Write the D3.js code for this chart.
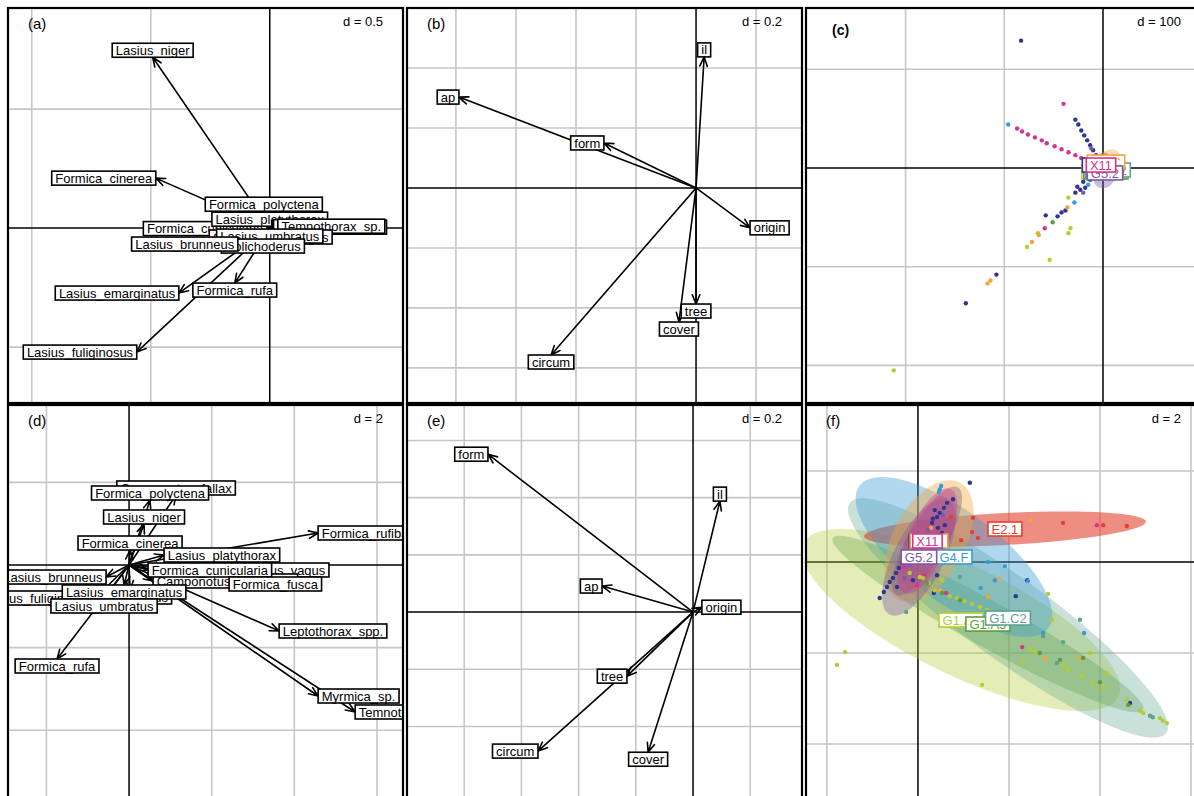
<!DOCTYPE html>
<html><head><meta charset="utf-8">
<script src="https://cdn.jsdelivr.net/npm/d3@7"></script>
<style>
html,body{margin:0;padding:0;background:#fff;}
svg text{font-family:"Liberation Sans",Arial,sans-serif;}
</style></head>
<body><svg id="chart" width="1194" height="796"></svg>
<script>
// ---------------- DATA ----------------
const panelNames = ["(a)","(b)","(c)","(d)","(e)","(f)"];
const panelScaleLabels = ["d = 0.5","d = 0.2","d = 100","d = 2","d = 0.2","d = 2"];
const panelXLim = [[-1.10,0.56],[-0.963,0.353],[-300.9,99.3],[-2.93,6.63],[-1.0,0.381],[-2.46,6.22]];
const panelYLim = [[-0.735,0.925],[-0.717,0.6],[-238.1,162.1],[-5.69,3.874],[-0.657,0.724],[-5.23,3.45]];
const gridX = [[-1,-0.5],[-0.8,-0.6,-0.4,-0.2,0.2],[-200,-100],[-2,2,4,6],[-0.8,-0.6,-0.4,-0.2,0.2],[-2,2,4,6]];
const gridY = [[0.5,-0.5],[0.4,0.2,-0.2,-0.4,-0.6],[100,-100,-200],[2,-2,-4],[0.6,0.4,0.2,-0.2,-0.4],[2,-2,-4]];

// (a) species loadings
const speciesA = ["Lasius_niger","Formica_cinerea","Formica_polyctena","Formica_cunicularia","Lasius_platythorax","Formica_rufibarbis","Myrmica_sp.","Leptothorax_spp.","Temnothorax_sp.","Camponotus_vagus","Lasius_umbratus","Dolichoderus","Lasius_brunneus","Formica_rufa","Lasius_emarginatus","Lasius_fuliginosus"];
const loadA_x = [-0.492,-0.479,-0.025,-0.012,0.000,0.008,0.012,0.016,0.034,0.004,0.000,-0.029,-0.134,-0.147,-0.382,-0.559];
const loadA_y = [0.718,0.210,0.071,-0.002,0.008,0.004,0.004,0.006,0.008,-0.008,-0.004,-0.046,-0.067,-0.231,-0.273,-0.521];

// (b) and (e) habitat variables
const varsBE = ["il","ap","form","origin","tree","cover","circum"];
const loadB_x = [0.027,-0.790,-0.307,0.180,0.000,-0.057,-0.483];
const loadB_y = [0.437,0.303,0.150,-0.133,-0.387,-0.447,-0.557];
const loadE_x = [0.094,-0.318,-0.717,0.031,-0.231,-0.157,-0.542];
const loadE_y = [0.388,0.091,0.552,0.017,-0.224,-0.490,-0.486];

// (d) species loadings
const speciesD = ["Camponotus_fallax","Formica_polyctena","Lasius_niger","Formica_cinerea","Formica_rufibarbis","Lasius_platythorax","Camponotus_vagus","Camponotus_ligniperda","Formica_cunicularia","Formica_fusca","Lasius_brunneus","Lasius_fuliginosus","Dolichoderus","Lasius_emarginatus","Lasius_umbratus","Formica_rufa","Leptothorax_spp.","Myrmica_sp.","Temnothorax_sp."];
const loadD_x = [1.138,0.508,0.363,0.024,4.576,0.847,1.864,0.581,0.460,2.421,-0.557,-0.823,0.024,-0.121,-0.605,-1.743,3.632,4.576,5.472];
const loadD_y = [1.695,1.574,0.993,0.363,0.775,0.242,-0.121,-0.387,-0.121,-0.460,-0.291,-0.799,-0.605,-0.484,-0.823,-2.276,-1.598,-3.172,-3.559];

// (c) and (f) habitat classes
const classNames = ["G1.A6","G1.A5","G1.C2","E2.1","G4.F","G5.1","G4.C","G5.2","X11"];
const classColors = ["#b3cc33","#5c9e3c","#5fa38c","#e3412f","#3b9ad4","#2f3591","#f4a43c","#7b5aa6","#d5348c"];

const ellC_cx = [1,3,5,3,1,-3,3,2,-2];
const ellC_cy = [-4,-4,-2,0,-2,3,6,-5,3];
const ellC_a = [10,10,12,10,12,14,16,16,12];
const ellC_b = [4,3,4,3,8,8,10,12,8];
const ellC_ang = [-30,-30,-35,0,-30,60,40,70,60];

const ellF_cx = [0.945,1.538,1.978,1.912,0.791,0.198,0.242,0.022,0.209];
const ellF_cy = [-1.275,-1.363,-1.231,0.725,0.110,0.462,0.462,0.110,0.462];
const ellF_a = [3.85,3.9,4.3,3.1,2.6,1.36,1.45,1.42,1.25];
const ellF_b = [1.2,0.5,0.9,0.35,1.0,0.42,0.8,0.55,0.45];
const ellF_ang = [-26,-29,-36,3,-37,60,62,63,66];

const pointsC_x = [-83,-28,-25,-22,-19,-16,-13,-10,-7,-26,-20,-23,-28,-18,-13,-38,-58,-46,-42,-108,-139,-8,
  -40,-87,-82,-76,-69,-62,-57,-49,-42,-35,-28,-22,-16,-59,-11,
  -96,-29,-15, -35,-77,-33,-35,-54,-212,-66, -51, -65,-114,-117,-36,-72, -5, -12,-20];
const pointsC_y = [129,49,44,38,33,28,23,18,13,-19,-14,-22,-25,-20,-12,-43,-48,-49,-45,-108,-137,-7,
  65,40,37,34,31,28,25,22,19,16,13,10,7,-61,-10,
  44,-35,-17, -30,-80,-61,-66,-93,-205,-66, -55, -68,-114,-117,-40,-75, -4, 20,-25];
const pointsC_grp = [5,5,5,5,5,5,5,5,5,5,5,5,5,5,5,5,5,5,5,5,5,5,
  8,8,8,8,8,8,8,8,8,8,8,8,8,8,8,
  4,4,4, 0,0,0,0,0,0,0, 1, 6,6,6,6,6, 2, 7,7];

const pointsF_x = [1.14,0.77,0.64,0.57,0.48,0.42,0.33,0.31,0.37,0.59,0.53,0.44,0.26,0.18,0.09,-0.11,-0.46,0.42,2.40,2.15,0.35,-0.84,-0.75,-0.68,-0.62,-0.55,-0.48,-0.42,-0.35,4.66,
  0.29,2.48,1.78,1.54,2.79,3.54,0.48,
  3.93,-0.02,-0.29,0.62,2.29,0.15,-0.07,
  0.22,0.04,-0.18,-0.29,0.55,
  0.48,0.46,0.51,1.54,1.91,2.42,1.38,1.69,3.65,2.75,
  0.73,1.21,0.95,1.32,3.19,4.07,4.59,1.19,
  -1.78,-1.60,1.41,0.04,0.11,-0.18,0.37,0.70,1.03,1.36,1.69,2.46,2.57,2.86,2.95,3.19,3.30,3.60,3.85,4.07,4.15,3.78,2.31,4.59,4.88,4.95,5.32,5.38,5.47,0.24,0.53,0.86,1.19,1.52,
  2.68,3.63,4.62,1.87,2.02,0.53,0.20,0.92,4.00,3.12,
  -0.26,0.92,3.05,3.19,5.10,5.16,2.75,3.56];
const pointsF_y = [1.74,1.38,1.30,1.19,1.08,0.99,0.95,0.86,1.14,0.81,0.64,0.75,0.59,0.37,0.22,-0.40,-0.55,-0.29,-0.40,-0.75,-0.68,-0.79,-0.66,-0.55,-0.44,-0.35,-0.24,-0.13,-0.02,-3.10,
  0.75,0.92,-0.37,-0.77,-2.11,-2.09,-0.62,
  0.81,-0.51,-0.11,-0.68,-1.87,-0.29,0.04,
  0.70,0.37,-0.07,-0.35,1.03,
  1.60,1.54,1.67,0.00,-0.09,-0.42,-0.57,-0.40,-1.56,-1.56,
  0.99,0.97,0.48,0.53,0.86,0.81,0.79,0.66,
  -2.26,-1.98,-2.70,-0.33,-0.35,-0.24,-0.62,-0.75,-0.86,-0.99,-1.12,-1.93,-1.98,-0.70,-1.27,-2.29,-2.37,-2.51,-2.66,-2.77,-2.44,-2.00,-2.18,-3.03,-3.27,-3.32,-3.43,-3.49,-3.54,-0.46,-0.40,-0.79,-0.92,-1.05,
  -2.00,-2.11,-3.14,-1.19,-1.25,-0.68,-0.46,-0.84,-2.64,-2.15,
  -1.10,-0.33,-2.22,-1.76,-3.38,-3.41,-1.63,-1.27];
const pointsF_grp = [5,5,5,5,5,5,5,5,5,5,5,5,5,5,5,5,5,5,5,5,5,5,5,5,5,5,5,5,5,5,
  6,6,6,6,6,6,6,
  8,8,8,8,8,8,8,
  7,7,7,7,7,
  4,4,4,4,4,4,4,4,4,4,
  3,3,3,3,3,3,3,3,
  0,0,0,0,0,0,0,0,0,0,0,0,0,0,0,0,0,0,0,0,0,0,0,0,0,0,0,0,0,0,0,0,0,0,
  1,1,1,1,1,1,1,1,1,1,
  2,2,2,2,2,2,2,2];

// ---------------- DRAWING ----------------
const SIZE = 395;
const colLeft = [8, 407, 806], rowTop = [8, 405];
const svg = d3.select("#chart");
const defs = svg.append("defs");
const meas = svg.append("text").attr("font-size", 13).style("visibility", "hidden");
const SPACE = 13 * 0.2778;
function boxWidth(s) { meas.text(s); return meas.node().getComputedTextLength() + 2 * SPACE; }
const BOX_H = 14;
const ellOpacity = {"E2.1": 0.6, "G1.A6": 0.35, "G1.A5": 0.33, "G1.C2": 0.33};

const panels = [
  {kind: "arrow", labels: speciesA, x: loadA_x, y: loadA_y},
  {kind: "arrow", labels: varsBE, x: loadB_x, y: loadB_y},
  {kind: "class", cx: ellC_cx, cy: ellC_cy, a: ellC_a, b: ellC_b, ang: ellC_ang, px: pointsC_x, py: pointsC_y, pg: pointsC_grp},
  {kind: "arrow", labels: speciesD, x: loadD_x, y: loadD_y},
  {kind: "arrow", labels: varsBE, x: loadE_x, y: loadE_y},
  {kind: "class", cx: ellF_cx, cy: ellF_cy, a: ellF_a, b: ellF_b, ang: ellF_ang, px: pointsF_x, py: pointsF_y, pg: pointsF_grp}
];

function labelCenter(xr, yr, px, py, w) {
  if (xr > yr && xr > -yr) return [px + w / 2, py];
  if (xr > yr && xr <= -yr) return [px, py + BOX_H / 2];
  if (xr <= yr && xr <= -yr) return [px - w / 2, py];
  return [px, py - BOX_H / 2];
}

function drawBox(g, cx, cy, text, col) {
  const w = boxWidth(text);
  g.append("rect").attr("x", cx - w / 2).attr("y", cy - BOX_H / 2)
    .attr("width", w).attr("height", BOX_H)
    .attr("fill", "#fff").attr("stroke", col).attr("stroke-width", 1.6);
  g.append("text").attr("x", cx).attr("y", cy + 4.6)
    .attr("text-anchor", "middle").attr("font-size", 13).attr("fill", col)
    .text(text);
}

panels.forEach((p, i) => {
  const left = colLeft[i % 3], top = rowTop[Math.floor(i / 3)];
  const xs = d3.scaleLinear().domain(panelXLim[i]).range([left, left + SIZE]);
  const ys = d3.scaleLinear().domain(panelYLim[i]).range([top + SIZE, top]);
  defs.append("clipPath").attr("id", "clip" + i).append("rect")
    .attr("x", left).attr("y", top).attr("width", SIZE).attr("height", SIZE);
  const g = svg.append("g").attr("clip-path", "url(#clip" + i + ")");

  // grid
  gridX[i].forEach(v => g.append("line").attr("x1", xs(v)).attr("x2", xs(v))
    .attr("y1", top).attr("y2", top + SIZE).attr("stroke", "#c6c6c6").attr("stroke-width", 1.6));
  gridY[i].forEach(v => g.append("line").attr("y1", ys(v)).attr("y2", ys(v))
    .attr("x1", left).attr("x2", left + SIZE).attr("stroke", "#c6c6c6").attr("stroke-width", 1.6));
  // axes through origin
  g.append("line").attr("x1", xs(0)).attr("x2", xs(0)).attr("y1", top).attr("y2", top + SIZE)
    .attr("stroke", "#000").attr("stroke-width", 1.5);
  g.append("line").attr("y1", ys(0)).attr("y2", ys(0)).attr("x1", left).attr("x2", left + SIZE)
    .attr("stroke", "#000").attr("stroke-width", 1.5);

  if (p.kind === "arrow") {
    const ox = xs(0), oy = ys(0);
    p.labels.forEach((lab, k) => {
      const tx = xs(p.x[k]), ty = ys(p.y[k]);
      const ang = Math.atan2(ty - oy, tx - ox);
      const L = 10, A = 22 * Math.PI / 180;
      const a1x = tx - L * Math.cos(ang - A), a1y = ty - L * Math.sin(ang - A);
      const a2x = tx - L * Math.cos(ang + A), a2y = ty - L * Math.sin(ang + A);
      g.append("path")
        .attr("d", `M${ox},${oy}L${tx},${ty}M${a1x},${a1y}L${tx},${ty}L${a2x},${a2y}`)
        .attr("fill", "none").attr("stroke", "#000").attr("stroke-width", 1.6)
        .attr("stroke-linejoin", "round").attr("stroke-linecap", "round");
    });
    p.labels.forEach((lab, k) => {
      const tx = xs(p.x[k]), ty = ys(p.y[k]);
      const w = boxWidth(lab);
      const c = labelCenter(p.x[k], p.y[k], tx, ty, w);
      drawBox(g, c[0], c[1], lab, "#000");
    });
  } else {
    const line = d3.line().x(d => xs(d[0])).y(d => ys(d[1])).curve(d3.curveLinearClosed);
    classNames.forEach((nm, k) => {
      const th = p.ang[k] * Math.PI / 180;
      const pts = d3.range(72).map(j => {
        const t = j / 72 * 2 * Math.PI;
        const u = p.a[k] * Math.cos(t), v = p.b[k] * Math.sin(t);
        return [p.cx[k] + u * Math.cos(th) - v * Math.sin(th), p.cy[k] + u * Math.sin(th) + v * Math.cos(th)];
      });
      g.append("path").attr("d", line(pts)).attr("fill", classColors[k])
        .attr("fill-opacity", ellOpacity[nm] !== undefined ? ellOpacity[nm] : 0.4).attr("stroke", "none");
    });
    p.px.forEach((vx, k) => {
      g.append("circle").attr("cx", xs(vx)).attr("cy", ys(p.py[k])).attr("r", 2.2)
        .attr("fill", classColors[p.pg[k]]);
    });
    classNames.forEach((nm, k) => {
      drawBox(g, xs(p.cx[k]), ys(p.cy[k]), nm, classColors[k]);
    });
  }

  // frame
  svg.append("rect").attr("x", left).attr("y", top).attr("width", SIZE).attr("height", SIZE)
    .attr("fill", "none").attr("stroke", "#000").attr("stroke-width", 2.2);
  // titles
  if (i === 2) {
    svg.append("text").attr("x", left + 26).attr("y", top + 27).attr("font-size", 14)
      .attr("font-weight", "bold").text(panelNames[i]);
  } else {
    svg.append("text").attr("x", left + 20).attr("y", top + 21).attr("font-size", 15).text(panelNames[i]);
  }
  svg.append("text").attr("x", left + SIZE - 20).attr("y", top + 18).attr("font-size", 13)
    .attr("text-anchor", "end").text(panelScaleLabels[i]);
});
meas.remove();
</script>
</body></html>
